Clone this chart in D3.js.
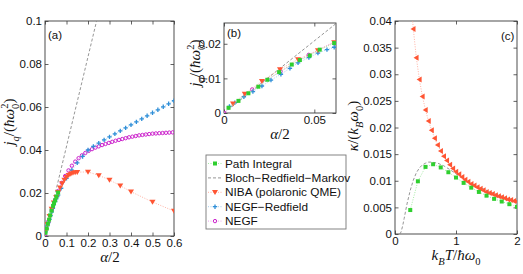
<!DOCTYPE html>
<html><head><meta charset="utf-8">
<script src="https://cdn.jsdelivr.net/npm/d3@7"></script>
<style>body{margin:0;background:#fff}svg{display:block}</style>
</head><body><svg id="c" width="523" height="274"></svg>
<script>
// ---------- DATA ----------
// Panels (a),(b): heat current j_q/(ħω0²) versus α/2
const piAlpha   = [0.0025,0.008,0.0135,0.019,0.024,0.0305,0.0375,0.042,0.0475,0.053,0.061];
const piJ       = [0.0015,0.0035,0.0057,0.0076,0.0096,0.0118,0.0140,0.0153,0.0166,0.0183,0.0202];
const brmAlpha  = [0, 0.24];
const brmJ      = [0, 0.1];
const nibaAlpha = [0.005,0.0115,0.021,0.031,0.041,0.052,0.061,0.07,0.08,0.09,0.1,0.11,0.12,0.13,0.14,0.15,0.2,0.25,0.3,0.35,0.4,0.5,0.6];
const nibaJ     = [0.0027,0.0055,0.0092,0.0126,0.0155,0.0181,0.0204,0.0225,0.0245,0.0261,0.0274,0.0283,0.0289,0.0293,0.0296,0.0297,0.0298,0.0282,0.0261,0.0234,0.0206,0.0158,0.0116];
const negfrAlpha= [0.003,0.006,0.011,0.016,0.021,0.026,0.0315,0.0365,0.041,0.047,0.052,0.057,0.061,0.075,0.1,0.125,0.15,0.175,0.2,0.225,0.25,0.275,0.3,0.325,0.35,0.375,0.4,0.425,0.45,0.475,0.5,0.525,0.55,0.575,0.6];
const negfrJ    = [0.0019,0.0030,0.0047,0.0062,0.0078,0.0095,0.0112,0.0129,0.0145,0.0160,0.0173,0.0183,0.0190,0.0222,0.0268,0.0306,0.0340,0.0370,0.0400,0.0417,0.0432,0.0447,0.0461,0.0475,0.0489,0.0503,0.0517,0.0531,0.0545,0.0559,0.0573,0.0587,0.0601,0.0615,0.0629];
const negfAlpha = [0,0.0156,0.0313,0.0469,0.0625,0.0781,0.0938,0.1094,0.125,0.1406,0.1563,0.1719,0.1875,0.2031,0.2188,0.2344,0.25,0.2656,0.2813,0.2969,0.3125,0.3281,0.3438,0.3594,0.375,0.3906,0.4063,0.4219,0.4375,0.4531,0.4688,0.4844,0.5,0.5156,0.5313,0.5469,0.5625,0.5781,0.5938];
const negfJ     = [0,0.0068,0.0120,0.0168,0.0210,0.0247,0.0279,0.0305,0.0327,0.0346,0.0362,0.0375,0.0386,0.0396,0.0404,0.0411,0.0417,0.0423,0.0428,0.0433,0.0438,0.0443,0.0447,0.0451,0.0455,0.0459,0.0462,0.0465,0.0468,0.0470,0.0472,0.0474,0.0476,0.0477,0.0478,0.0479,0.0480,0.0481,0.0482];

// Panel (c): thermal conductance κ/(k_B ω0) versus k_B T/ħω0
const cPiT      = [0.25,0.375,0.5,0.625,0.75,0.875,1.0,1.125,1.25,1.375,1.5,1.625,1.75,1.875,2.0];
const cPiK      = [0.0045,0.0099,0.0126,0.0131,0.0125,0.0116,0.0106,0.0096,0.0087,0.0079,0.0072,0.0066,0.0061,0.0056,0.0051];
const cBrmT     = [0.08,0.1,0.125,0.15,0.175,0.2,0.25,0.3,0.35,0.4,0.45,0.5,0.55,0.6,0.7,0.8,0.9,1.0,1.2,1.4,1.6,1.8,2.0];
const cBrmK     = [0,0.0004,0.0015,0.0029,0.0044,0.0058,0.0082,0.0101,0.0115,0.0124,0.0130,0.0133,0.0135,0.0135,0.0133,0.0128,0.0121,0.0113,0.0098,0.0087,0.0077,0.0069,0.0062];
const cNibaT    = [0.25,0.3,0.35,0.4,0.45,0.5,0.55,0.6,0.65,0.7,0.75,0.8,0.85,0.9,0.95,1.0,1.05,1.1,1.15,1.2,1.25,1.3,1.35,1.4,1.45,1.5,1.55,1.6,1.65,1.7,1.75,1.8,1.85,1.9,1.95,2.0];
const cNibaK    = [0.046,0.0385,0.0331,0.0290,0.0258,0.0233,0.0212,0.0195,0.0180,0.0167,0.0156,0.0146,0.0138,0.0130,0.0123,0.0117,0.0112,0.0107,0.0102,0.0098,0.0094,0.0091,0.0088,0.0085,0.0082,0.0079,0.0077,0.0075,0.0073,0.0071,0.0069,0.0067,0.0065,0.0064,0.0062,0.0061];

// Tick labels
const aXTicks = [0,0.1,0.2,0.3,0.4,0.5,0.6], aXLabels = ["0","0.1","0.2","0.3","0.4","0.5","0.6"];
const aYTicks = [0,0.02,0.04,0.06,0.08,0.1], aYLabels = ["0","0.02","0.04","0.06","0.08","0.1"];
const bXTicks = [0,0.05], bXLabels = ["0","0.05"];
const bYTicks = [0,0.01,0.02], bYLabels = ["0","0.01","0.02"];
const cXTicks = [0,1,2], cXLabels = ["0","1","2"];
const cYTicks = [0,0.005,0.01,0.015,0.02,0.025,0.03,0.035,0.04], cYLabels = ["0","0.005","0.01","0.015","0.02","0.025","0.03","0.035","0.04"];

const legendNames = ["Path Integral","Bloch\u2212Redfield\u2212Markov","NIBA (polaronic QME)","NEGF\u2212Redfield","NEGF"];

// ---------- STYLE ----------
const SANS = '"Liberation Sans", Arial, Helvetica, sans-serif';
const SERIF = '"Liberation Serif", "DejaVu Serif", serif';
const COL = {
  pi:  {m:"#2fcf2f", l:"#9be89b"},
  brm: {l:"#8a8a8a"},
  niba:{m:"#ff5533", l:"#ffa898"},
  nr:  {m:"#2f8fd8", l:"#9cc8ec"},
  negf:{m:"#cc22cc", l:"#ea9aea"}
};
const svg = d3.select("#c");

function zip(a,b){ return a.map((v,i)=>[v,b[i]]); }

function marker(g, type, x, y, color){
  if(type==="sq"){
    g.append("rect").attr("x",x-2).attr("y",y-2).attr("width",4).attr("height",4).attr("fill",color);
  } else if(type==="tdown"){
    g.append("path").attr("d",`M${x-3},${y-2.2}L${x+3},${y-2.2}L${x},${y+2.8}Z`).attr("fill",color);
  } else if(type==="tleft"){
    g.append("path").attr("d",`M${x+2.2},${y-3}L${x+2.2},${y+3}L${x-2.8},${y}Z`).attr("fill",color);
  } else if(type==="plus"){
    g.append("path").attr("d",`M${x-2.2},${y}H${x+2.2}M${x},${y-2.2}V${y+2.2}`).attr("stroke",color).attr("stroke-width",1.3);
  } else if(type==="circ"){
    g.append("circle").attr("cx",x).attr("cy",y).attr("r",1.7).attr("fill","none").attr("stroke",color).attr("stroke-width",1);
  }
}

function series(g, x, y, pts, lineCol, dash, mType, mCol, lw){
  g.append("path").datum(pts)
    .attr("d", d3.line().x(d=>x(d[0])).y(d=>y(d[1])))
    .attr("fill","none").attr("stroke",lineCol).attr("stroke-width",lw||0.9)
    .attr("stroke-dasharray",dash);
  if(mType){
    const mg = g.append("g");
    pts.forEach(d=>{
      if(d[0]>=x.domain()[0]-1e-9 && d[0]<=x.domain()[1]+1e-9 && d[1]<=y.domain()[1]+1e-9)
        marker(mg, mType, x(d[0]), y(d[1]), mCol);
    });
  }
}

function mathText(g, x, y, parts, size, rotate, anchor){
  const t = g.append("text").attr("font-family",SERIF).attr("font-size",size).attr("fill","#111")
    .attr("text-anchor",anchor||"middle")
    .attr("transform",`translate(${x},${y})` + (rotate?" rotate(-90)":""));
  let cur = 0;
  parts.forEach(p=>{
    const s = t.append("tspan").text(p.t);
    if(p.i) s.attr("font-style","italic");
    let target = 0, fs = size;
    if(p.sub){ target = size*0.3; fs = size*0.7; }
    if(p.sup){ target = -size*0.4; fs = size*0.7; }
    s.attr("font-size",fs).attr("dy", target-cur);
    if(p.dx) s.attr("dx",p.dx);
    cur = target;
  });
  return t;
}

function panel(o){
  const g = svg.append("g");
  const x = d3.scaleLinear().domain(o.xd).range([o.L,o.R]);
  const y = d3.scaleLinear().domain(o.yd).range([o.B,o.T]);
  const id = "clip"+o.name;
  svg.append("defs").append("clipPath").attr("id",id)
    .append("rect").attr("x",o.L).attr("y",o.T).attr("width",o.R-o.L).attr("height",o.B-o.T);
  g.append("rect").attr("x",o.L).attr("y",o.T).attr("width",o.R-o.L).attr("height",o.B-o.T)
    .attr("fill","#fff").attr("stroke","#3a3a3a").attr("stroke-width",0.9);
  const ax = (gen, tr, labels, ticks)=>{
    const a = g.append("g").attr("transform",tr)
      .call(gen.tickValues(ticks).tickSizeInner(-3.5).tickSizeOuter(0).tickPadding(3)
           .tickFormat((d,i)=>labels?labels[i]:""));
    a.select(".domain").remove();
    a.selectAll("line").attr("stroke","#3a3a3a").attr("stroke-width",0.8);
    a.selectAll("text").attr("font-family",SANS).attr("font-size",11.5).attr("fill","#111");
    return a;
  };
  ax(d3.axisBottom(x), `translate(0,${o.B})`, o.xl, o.xt);
  ax(d3.axisTop(x), `translate(0,${o.T})`, null, o.xt);
  ax(d3.axisLeft(y), `translate(${o.L},0)`, o.yl, o.yt);
  ax(d3.axisRight(y), `translate(${o.R},0)`, null, o.yt);
  const plot = g.append("g").attr("clip-path",`url(#${id})`);
  return {g,x,y,plot};
}

// ---------- PANEL (a) ----------
const A = panel({name:"a",L:45,R:174,T:21,B:236,xd:[0,0.6],yd:[0,0.1],xt:aXTicks,xl:aXLabels,yt:aYTicks,yl:aYLabels});
function drawJ(P){
  series(P.plot,P.x,P.y,zip(brmAlpha,brmJ),COL.brm.l,"3,2",null,null,0.9);
  series(P.plot,P.x,P.y,zip(negfAlpha,negfJ),COL.negf.l,"1,1.5","circ",COL.negf.m);
  series(P.plot,P.x,P.y,zip(negfrAlpha,negfrJ),COL.nr.l,"1,1.5","plus",COL.nr.m);
  series(P.plot,P.x,P.y,zip(nibaAlpha,nibaJ),COL.niba.l,"1,1.5","tdown",COL.niba.m);
  series(P.plot,P.x,P.y,zip(piAlpha,piJ),COL.pi.l,"1,1.5","sq",COL.pi.m);
}
drawJ(A);
A.g.append("text").attr("x",48).attr("y",39).attr("font-family",SANS).attr("font-size",11.5).attr("fill","#111").text("(a)");
mathText(svg,110,262,[{t:"α",i:1},{t:"/2"}],15);
const jLabel = [{t:"j",i:1},{t:"q",i:1,sub:1},{t:"/("},{t:"ħ",i:1},{t:"ω",i:1},{t:"0",sub:1},{t:"2",sup:1,dx:-5},{t:")"}];
mathText(svg,14,122,jLabel,15,true);

// ---------- PANEL (b) ----------
const B = panel({name:"b",L:224,R:336,T:23,B:113,xd:[0,0.062],yd:[0,0.026],xt:bXTicks,xl:bXLabels,yt:bYTicks,yl:bYLabels});
drawJ(B);
B.g.append("text").attr("x",227).attr("y",37).attr("font-family",SANS).attr("font-size",11.5).attr("fill","#111").text("(b)");
mathText(svg,280,139,[{t:"α",i:1},{t:"/2"}],15);
mathText(svg,200,63,jLabel,15,true);

// ---------- LEGEND ----------
const lg = svg.append("g");
lg.append("rect").attr("x",206).attr("y",155).attr("width",140).attr("height",74)
  .attr("fill","#fff").attr("stroke","#777").attr("stroke-width",0.9);
const legSpec = [
  {l:COL.pi.l,d:"1,1.5",m:"sq",c:COL.pi.m},
  {l:COL.brm.l,d:"3,2",m:null},
  {l:COL.niba.l,d:"1,1.5",m:"tdown",c:COL.niba.m},
  {l:COL.nr.l,d:"1,1.5",m:"plus",c:COL.nr.m},
  {l:COL.negf.l,d:"1,1.5",m:"circ",c:COL.negf.m}
];
legendNames.forEach((n,i)=>{
  const yy = 163.5 + i*14.4;
  lg.append("line").attr("x1",208).attr("x2",222).attr("y1",yy).attr("y2",yy)
    .attr("stroke",legSpec[i].l).attr("stroke-width",0.9).attr("stroke-dasharray",legSpec[i].d);
  if(legSpec[i].m) marker(lg, legSpec[i].m, 215, yy, legSpec[i].c);
  lg.append("text").attr("x",225).attr("y",yy+4).attr("font-family",SANS).attr("font-size",11.8).attr("fill","#111").text(n);
});

// ---------- PANEL (c) ----------
const C = panel({name:"c",L:395,R:517,T:21,B:234,xd:[0,2],yd:[0,0.04],xt:cXTicks,xl:cXLabels,yt:cYTicks,yl:cYLabels});
series(C.plot,C.x,C.y,zip(cBrmT,cBrmK),COL.brm.l,"3,2",null,null,0.9);
series(C.plot,C.x,C.y,zip(cNibaT,cNibaK),COL.niba.l,"1,1.5","tleft",COL.niba.m);
series(C.plot,C.x,C.y,zip(cPiT,cPiK),COL.pi.l,"1,1.5","sq",COL.pi.m);
C.g.append("text").attr("x",501).attr("y",40).attr("font-family",SANS).attr("font-size",11.5).attr("fill","#111").text("(c)");
mathText(svg,456,260,[{t:"k",i:1},{t:"B",i:1,sub:1},{t:"T",i:1},{t:"/"},{t:"ħω",i:1},{t:"0",sub:1}],15);
mathText(svg,358,126,[{t:"κ",i:1},{t:"/("},{t:"k",i:1},{t:"B",i:1,sub:1},{t:"ω",i:1},{t:"0",sub:1},{t:")"}],15,true);
</script></body></html>
